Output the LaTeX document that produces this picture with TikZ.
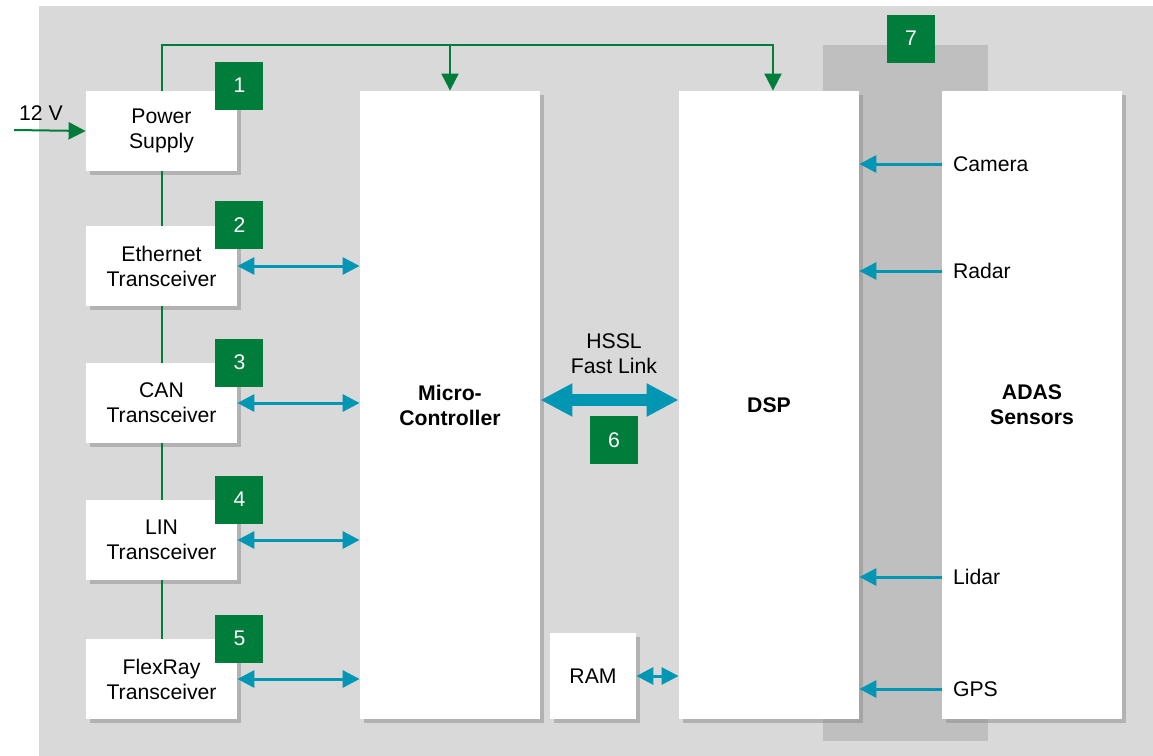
\documentclass[tikz,border=0pt]{standalone}
\usepackage{fontspec}
\setmainfont{Liberation Sans}
\usetikzlibrary{positioning,arrows.meta,shadows}
\definecolor{adasgreen}{RGB}{0,125,58}
\definecolor{linkblue}{RGB}{0,150,180}
\definecolor{panelgray}{RGB}{217,217,217}
\definecolor{bandgray}{RGB}{191,191,191}

\begin{document}
\begin{tikzpicture}
      [ x=0.5pt, y=-0.5pt,
        every node/.style={font=\fontsize{10.6}{12.5}\selectfont, align=center},
        block/.style={fill=white, inner sep=0pt,
          drop shadow={shadow xshift=2pt, shadow yshift=-2pt, opacity=0.5, fill=black!45}},
        unit/.style={block, minimum width=75.5pt, minimum height=40pt},
        chip/.style={block, minimum width=90pt, minimum height=314pt,
          font=\fontsize{10.6}{12.5}\selectfont\bfseries},
        tag/.style={fill=adasgreen, text=white, minimum size=24pt, inner sep=0pt},
        pwr/.style={adasgreen, line width=1pt},
        pwrtip/.style={-{Triangle[length=8.5pt,width=8.5pt]}},
        bus/.style={linkblue, line width=1.5pt,
          {Triangle[length=8.5pt,width=8.5pt]}-{Triangle[length=8.5pt,width=8.5pt]}},
        feed/.style={linkblue, line width=1.5pt, -{Triangle[length=8.5pt,width=8.5pt]}}
      ]
      \useasboundingbox (0,0) rectangle (1153,756);
      \fill[panelgray] (39,6) rectangle (1153,756);
      \fill[bandgray]  (823,45) rectangle (988,741);

      % interface side
      \node[unit]  (psu)  at (161.5,131) {Power\\Supply};
      \node[unit]  (eth)  at (161.5,266) {Ethernet\\Transceiver};
      \node[unit]  (can)  at (161.5,403) {CAN\\Transceiver};
      \node[unit]  (lin)  at (161.5,540) {LIN\\Transceiver};
      \node[unit]  (flex) at (161.5,679) {FlexRay\\Transceiver};

      % processing
      \node[chip]  (mcu)  at (450,405)   {Micro-\\Controller};
      \node[chip]  (dsp)  at (769,405)   {DSP};
      \node[chip]  (adas) at (1032,405)  {ADAS\\Sensors};
      \node[block, minimum size=43pt] (ram) at (593,676) {RAM};

      % sensors
      \node[anchor=west] (cam)   at (946,164) {Camera};
      \node[anchor=west] (radar) at (946,271) {Radar};
      \node[anchor=west] (lidar) at (946,577) {Lidar};
      \node[anchor=west] (gps)   at (946,689) {GPS};

      % supply
      \coordinate (vin)  at (14,130);
      \coordinate (rail) at (0,45);
      \node (v12) at (41,113) {12 V};
      \draw[pwr,pwrtip] (vin) -- (psu.west);
      \draw[pwr,pwrtip] (psu.north) |- ([xshift=2pt]rail -| dsp.north) -- ([xshift=2pt]dsp.north);
      \draw[pwr,pwrtip] (rail -| mcu.north) -- (mcu.north);
      \draw[pwr] (psu) -- (eth) -- (can) -- (lin) -- (flex);

      % buses
      \draw[bus] (eth.east)  -- (eth.east -| mcu.west);
      \draw[bus] (can.east)  -- (can.east -| mcu.west);
      \draw[bus] (lin.east)  -- (lin.east -| mcu.west);
      \draw[bus] (flex.east) -- (flex.east -| mcu.west);
      \draw[bus] (ram.east)  -- (ram.east -| dsp.west);
      \foreach \s in {cam,radar,lidar,gps}
        \draw[feed] (\s -| adas.west) -- (\s -| dsp.east);

      % fast link
      \coordinate (hs) at (614,400);
      \node (hssl) at (614,354) {HSSL\\Fast Link};
      \draw[linkblue, line width=6pt,
        {Triangle[length=16pt,width=15.5pt]}-{Triangle[length=16pt,width=15.5pt]}]
        (hs -| mcu.east) -- (hs -| dsp.west);

      % numbers
      \node[tag] (n1) at ([xshift=1pt,yshift=2.5pt]psu.north east) {1};
      \node[tag] (n2) at ([xshift=1pt,yshift=0.5pt]eth.north east) {2};
      \node[tag] (n3) at ([xshift=1pt]can.north east) {3};
      \node[tag] (n4) at ([xshift=1pt]lin.north east) {4};
      \node[tag] (n5) at ([xshift=1pt]flex.north east) {5};
      \node[tag] (n6) at (614,440) {6};
      \node[tag] (n7) at (911,38.5) {7};
    \end{tikzpicture}
\end{document}
